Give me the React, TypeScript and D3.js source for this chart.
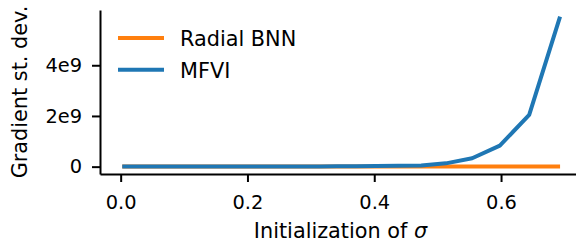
import { useRef, useEffect } from 'react';
import { select, scaleLinear, axisBottom, axisLeft, line } from 'd3';

// sigma values (softplus of rho grid)
const sigmas = [
  0.0025, 0.0067, 0.0182, 0.0486, 0.1269, 0.2014, 0.3133, 0.3412, 0.3711, 0.4032, 0.4375, 0.4741, 0.513, 0.5544,
  0.5981, 0.6444, 0.6931,
];
const mfvi = [
  0.001e9, 0.001e9, 0.002e9, 0.003e9, 0.005e9, 0.007e9, 0.01e9, 0.012e9, 0.016e9, 0.022e9, 0.032e9, 0.05e9, 0.13e9,
  0.33e9, 0.83e9, 2.04e9, 5.92e9,
];
const radial = [
  0.001e9, 0.001e9, 0.001e9, 0.001e9, 0.001e9, 0.001e9, 0.001e9, 0.001e9, 0.001e9, 0.001e9, 0.001e9, 0.001e9,
  0.001e9, 0.001e9, 0.001e9, 0.001e9, 0.001e9,
];
const xTicks = [0, 0.2, 0.4, 0.6];
const yTicks = [0, 2e9, 4e9];
const yTickLabels = ['0', '2e9', '4e9'];
const series = [
  { name: 'Radial BNN', values: radial, color: '#ff7f0e' },
  { name: 'MFVI', values: mfvi, color: '#1f77b4' },
];

const WIDTH = 576;
const HEIGHT = 242;
const FONT = '"DejaVu Sans", sans-serif';

export default function App() {
  const svgRef = useRef<SVGSVGElement>(null);

  useEffect(() => {
    const svg = select(svgRef.current);
    svg.selectAll('*').remove();

    const x = scaleLinear().domain([-0.0326, 0.7277]).range([100, 582]);
    const y = scaleLinear().domain([-0.29e9, 6.18e9]).range([174, 10]);

    const xAxis = svg
      .append('g')
      .attr('transform', `translate(0, ${y.range()[0]})`)
      .call(
        axisBottom(x)
          .tickValues(xTicks)
          .tickFormat((d) => (+d).toFixed(1))
          .tickSize(8)
          .tickSizeOuter(0)
          .tickPadding(13),
      );
    const yAxis = svg
      .append('g')
      .attr('transform', `translate(${x.range()[0]}, 0)`)
      .call(
        axisLeft(y)
          .tickValues(yTicks)
          .tickFormat((_d, i) => yTickLabels[i])
          .tickSize(8)
          .tickSizeOuter(0)
          .tickPadding(10),
      );
    [xAxis, yAxis].forEach((g) => {
      g.selectAll('path, line').attr('stroke', '#000').attr('stroke-width', 2);
      g.selectAll('text').attr('fill', '#000').attr('font-size', 19.4).attr('font-family', FONT);
    });

    const path = line<number>()
      .x((_d, i) => x(sigmas[i]))
      .y((d) => y(d));
    series.forEach((s) => {
      svg
        .append('path')
        .datum(s.values)
        .attr('fill', 'none')
        .attr('stroke', s.color)
        .attr('stroke-width', 4)
        .attr('stroke-linejoin', 'round')
        .attr('d', path);
    });

    // legend
    const legend = svg.append('g').attr('transform', 'translate(118, 38)');
    series.forEach((s, i) => {
      const row = legend.append('g').attr('transform', `translate(0, ${i * 31.7})`);
      row.append('line').attr('x1', 0).attr('x2', 46).attr('stroke', s.color).attr('stroke-width', 4);
      row
        .append('text')
        .attr('x', 62)
        .attr('y', 8)
        .attr('font-size', 20.8)
        .attr('font-family', FONT)
        .attr('fill', '#000')
        .text(s.name);
    });

    // axis labels
    const xl = svg
      .append('text')
      .attr('x', 340.5)
      .attr('y', 238)
      .attr('text-anchor', 'middle')
      .attr('font-size', 20.8)
      .attr('font-family', FONT)
      .attr('fill', '#000');
    xl.append('tspan').text('Initialization of ');
    xl.append('tspan').attr('font-style', 'italic').text('σ');

    svg
      .append('text')
      .attr('transform', 'translate(27, 92) rotate(-90)')
      .attr('text-anchor', 'middle')
      .attr('font-size', 20.8)
      .attr('font-family', FONT)
      .attr('fill', '#000')
      .text('Gradient st. dev.');
  }, []);

  return (
    <svg
      ref={svgRef}
      width={WIDTH}
      height={HEIGHT}
      style={{ position: 'absolute', left: 0, top: 0, background: '#fff' }}
    />
  );
}
